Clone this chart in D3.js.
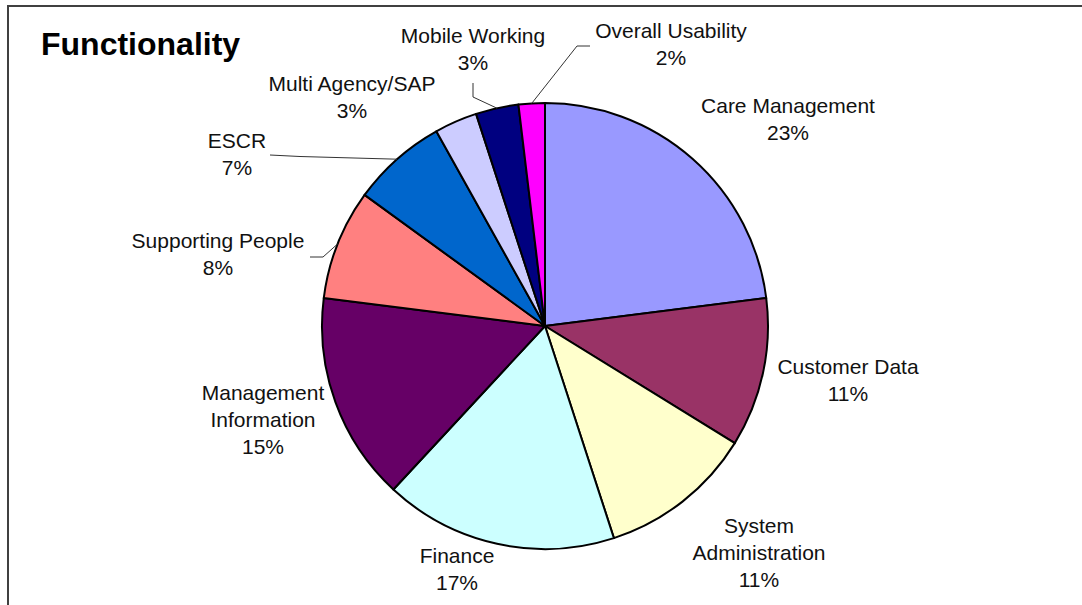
<!DOCTYPE html>
<html>
<head>
<meta charset="utf-8">
<script src="https://cdn.jsdelivr.net/npm/d3@7"></script>
<style>
  html, body { margin: 0; padding: 0; background: #fff; }
  svg { display: block; }
  text { font-family: "Liberation Sans", Arial, sans-serif; }
</style>
</head>
<body>
<svg id="chart" width="1082" height="605"></svg>
<script>
// ---- data ----
const title = "Functionality";
const categories = ["Care Management", "Customer Data", "System Administration", "Finance",
  "Management Information", "Supporting People", "ESCR", "Multi Agency/SAP",
  "Mobile Working", "Overall Usability"];
const values = [23.0, 10.8, 11.2, 16.9, 15.1, 8.0, 6.9, 3.1, 3.1, 1.9];
const colors = ["#9999FF", "#993366", "#FFFFCC", "#CCFFFF", "#660066",
  "#FF8080", "#0066CC", "#CCCCFF", "#000080", "#FF00FF"];

// ---- layout (label placement, not data) ----
const nameLines = [["Care Management"], ["Customer Data"], ["System", "Administration"], ["Finance"],
  ["Management", "Information"], ["Supporting People"], ["ESCR"], ["Multi Agency/SAP"],
  ["Mobile Working"], ["Overall Usability"]];
const labelPos = [[788, 113], [848, 374], [759, 533], [457, 563], [263, 400], [218, 248],
  [237, 148], [352, 91], [473, 43], [671, 38]];
// leader: [startX, startY, elbowX, elbowY] or null ; end is computed on the slice edge
const leaders = [null, null, null, null, null, [310, 257, 323, 257], [270, 155, 300, 156.5],
  null, [473, 83, 473, 97], [590, 46, 577, 46]];

const cx = 545, cy = 326, R = 223;
const lineH = 27;

const svg = d3.select("#chart");

// frame
svg.append("rect").attr("x", 8).attr("y", 6).attr("width", 1200).attr("height", 700)
  .attr("fill", "#fff").attr("stroke", "#404040").attr("stroke-width", 2);

// title
svg.append("text").attr("x", 41).attr("y", 55).attr("font-size", 32)
  .attr("font-weight", "bold").attr("fill", "#000").text(title);

const total = d3.sum(values);
const pie = d3.pie().sort(null).value(d => d)(values);
const arc = d3.arc().innerRadius(0).outerRadius(R);

const g = svg.append("g").attr("transform", `translate(${cx},${cy})`);
g.selectAll("path.slice").data(pie).join("path")
  .attr("class", "slice")
  .attr("d", arc)
  .attr("fill", (d, i) => colors[i])
  .attr("stroke", "#000").attr("stroke-width", 2).attr("stroke-linejoin", "round");

// leader lines
pie.forEach((d, i) => {
  const L = leaders[i];
  if (!L) return;
  const a = (d.startAngle + d.endAngle) / 2;
  const ex = cx + R * Math.sin(a), ey = cy - R * Math.cos(a);
  svg.append("polyline")
    .attr("points", `${L[0]},${L[1]} ${L[2]},${L[3]} ${ex},${ey}`)
    .attr("fill", "none").attr("stroke", "#333").attr("stroke-width", 1);
});

// labels
pie.forEach((d, i) => {
  const lines = nameLines[i].concat([Math.round(values[i] / total * 100) + "%"]);
  const t = svg.append("text").attr("text-anchor", "middle").attr("font-size", 21).attr("fill", "#111");
  lines.forEach((s, k) => {
    t.append("tspan").attr("x", labelPos[i][0]).attr("y", labelPos[i][1] + k * lineH).text(s);
  });
});
</script>
</body>
</html>
